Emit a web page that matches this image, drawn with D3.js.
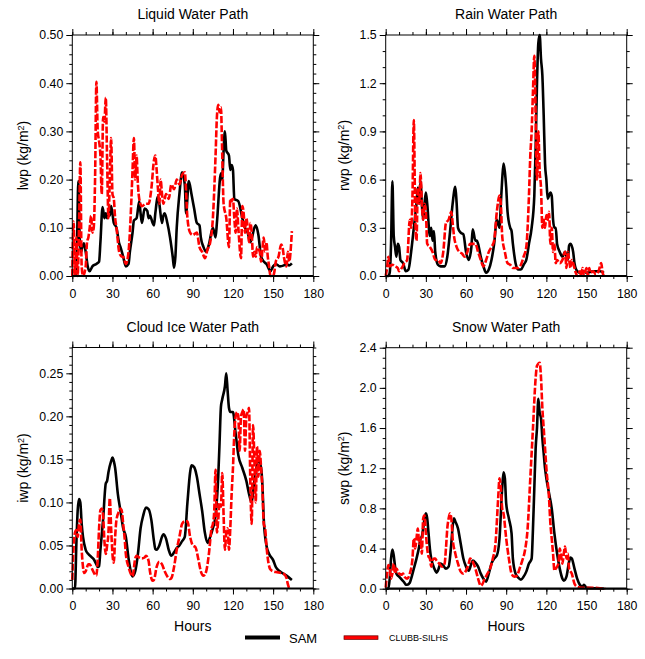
<!DOCTYPE html>
<html>
<head>
<meta charset="utf-8">
<script src="https://cdn.jsdelivr.net/npm/d3@7"></script>
<style>
body { margin: 0; background: #fff; }
text { font-family: "Liberation Sans", Arial, sans-serif; fill: #000; }
</style>
</head>
<body>
<div id="chart"></div>
<script>
// series names (legend)
var seriesNames = ["SAM", "CLUBB-SILHS"];

// hours axis
var xTicks = [0, 30, 60, 90, 120, 150, 180];

// liquid water path [hour, kg/m2]
var lwpSam = [[2.5,0],[3.5,0.06],[4.5,0.197],[5.5,0.08],[6.5,0.05],[7.5,0.06],[8.7,0.068],[10,0.05],[11.5,0.02],[13,0.01],[15,0.02],[18,0.025],[20,0.03],[21,0.07],[22.6,0.143],[24,0.12],[25,0.13],[26,0.12],[27,0.13],[28,0.125],[29,0.145],[31,0.11],[33,0.1],[35,0.068],[36,0.06],[38,0.04],[40,0.02],[42,0.025],[43,0.05],[45,0.09],[46,0.115],[48,0.12],[50,0.155],[51,0.13],[52,0.11],[54,0.14],[56,0.135],[57,0.12],[58,0.125],[60,0.11],[61,0.105],[62,0.13],[64,0.165],[65,0.15],[67,0.11],[68,0.125],[69,0.13],[71,0.11],[73,0.08],[75,0.04],[76,0.017],[77,0.04],[78,0.1],[80,0.17],[82,0.215],[84,0.19],[85,0.13],[87,0.197],[89,0.17],[91,0.14],[93,0.11],[95,0.105],[96,0.08],[98,0.06],[100,0.05],[102,0.065],[105,0.1],[107,0.08],[108,0.11],[111,0.213],[112,0.2],[113,0.26],[114,0.3],[115,0.26],[117,0.25],[118,0.22],[119,0.23],[120,0.22],[121,0.16],[124,0.155],[127,0.12],[129,0.1],[131,0.09],[133,0.07],[136,0.1],[137,0.105],[139,0.085],[141,0.04],[143,0.03],[145,0.025],[148,0.01],[150,0.02],[152,0.025],[155,0.02],[158,0.022],[160,0.025],[162,0.022],[164,0.026]];
var lwpClubb = [[0,0],[1,0.113],[2,0],[3,0.08],[4,0],[5,0.1],[6,0.236],[7,0.02],[8,0],[10,0.02],[11,0.07],[12,0.08],[13,0.1],[14,0.125],[15,0.09],[16,0.1],[17,0.2],[18,0.403],[19,0.3],[20,0.28],[21,0.25],[22,0.17],[23,0.33],[24,0.32],[25,0.37],[26,0.24],[27,0.12],[28,0.2],[29,0.286],[30,0.17],[31,0.16],[32,0.12],[33,0.1],[35,0.05],[37,0.04],[38,0.04],[40,0.025],[42,0.05],[44,0.15],[45,0.22],[46,0.286],[47,0.2],[48,0.25],[49,0.19],[50,0.16],[52,0.145],[55,0.15],[57,0.15],[59,0.18],[61,0.24],[62,0.25],[63,0.22],[64,0.18],[65,0.15],[66,0.2],[67,0.17],[68,0.15],[70,0.17],[72,0.16],[74,0.19],[76,0.18],[78,0.2],[80,0.19],[82,0.21],[84,0.215],[86,0.12],[88,0.09],[90,0.085],[93,0.09],[95,0.06],[97,0.05],[99,0.037],[101,0.055],[103,0.07],[105,0.12],[107,0.25],[108,0.33],[109,0.355],[110,0.34],[111,0.35],[112,0.25],[113,0.15],[115,0.12],[117,0.06],[118,0.16],[119,0.155],[120,0.16],[121,0.12],[122,0.09],[123,0.14],[124,0.1],[126,0.037],[127,0.145],[128,0.13],[129,0.09],[130,0.12],[131,0.1],[132,0.07],[133,0.11],[134,0.09],[135,0.04],[136,0.05],[137,0.04],[138,0.06],[140,0.05],[141,0.03],[143,0.08],[144,0.05],[145,0.07],[146,0.04],[147,0.02],[148,0],[150,0],[151,0.01],[152,0.03],[154,0.04],[156,0.065],[157,0.06],[158,0.04],[160,0.02],[161,0.05],[162,0.03],[164,0.093]];

// rain water path
var rwpSam = [[0,0],[2,0],[3,0.02],[4,0.2],[5,0.59],[6,0.25],[7,0.18],[8,0.12],[9,0.2],[10,0.18],[11,0.1],[13,0.08],[15,0.03],[17,0.04],[19,0.15],[21,0.3],[23,0.45],[24,0.55],[25,0.45],[26,0.59],[27,0.45],[28,0.35],[29,0.45],[30,0.52],[31,0.45],[33,0.25],[34,0.3],[35,0.22],[36,0.28],[37,0.15],[39,0.07],[41,0.06],[44,0.06],[46,0.12],[48,0.27],[50,0.45],[52,0.555],[53,0.45],[54,0.3],[56,0.27],[58,0.26],[60,0.15],[62,0.1],[64,0.18],[65,0.29],[67,0.22],[68,0.22],[69,0.2],[71,0.12],[73,0.06],[75,0.02],[77,0.04],[79,0.1],[81,0.2],[83,0.35],[85,0.3],[86,0.45],[87,0.6],[88,0.7],[89,0.65],[90,0.55],[91,0.4],[93,0.3],[94,0.28],[95,0.2],[97,0.08],[99,0.04],[101,0.04],[103,0.07],[105,0.1],[107,0.2],[109,0.3],[111,0.5],[112,0.8],[113,1.2],[114,1.45],[115,1.5],[116,1.35],[117,1.25],[118,1.0],[119,0.7],[120,0.6],[121,0.48],[122,0.5],[123,0.52],[124,0.5],[125,0.35],[126,0.3],[127,0.3],[128,0.2],[130,0.15],[132,0.12],[134,0.15],[136,0.1],[137,0.19],[138,0.2],[140,0.15],[141,0.08],[143,0.03],[145,0.02],[147,0.03],[150,0.02],[155,0.03],[160,0.03],[163,0.02]];
var rwpClubb = [[0,0],[1,0.05],[2,0.12],[3,0.06],[5,0.07],[7,0.06],[9,0.05],[10,0.03],[12,0.05],[14,0.08],[16,0.1],[18,0.35],[19,0.3],[20,0.5],[21,0.97],[22,0.4],[23,0.22],[24,0.55],[25,0.45],[26,0.64],[27,0.45],[28,0.35],[29,0.45],[30,0.4],[31,0.2],[33,0.18],[35,0.15],[37,0.1],[39,0.1],[41,0.08],[43,0.15],[45,0.33],[47,0.35],[49,0.4],[50,0.33],[51,0.25],[53,0.18],[55,0.15],[57,0.14],[59,0.12],[61,0.15],[63,0.2],[65,0.2],[67,0.2],[69,0.15],[71,0.1],[73,0.06],[75,0.1],[77,0.15],[79,0.18],[81,0.22],[83,0.4],[85,0.5],[86,0.45],[87,0.25],[89,0.15],[91,0.08],[93,0.07],[95,0.05],[97,0.05],[99,0.05],[101,0.07],[103,0.12],[105,0.18],[107,0.5],[108,0.75],[109,0.9],[110,1.15],[111,1.37],[112,1.0],[113,0.6],[114,0.9],[115,0.65],[116,0.55],[117,0.3],[118,0.35],[119,0.3],[120,0.38],[121,0.35],[122,0.4],[123,0.2],[124,0.3],[125,0.15],[126,0.2],[127,0.08],[128,0.1],[130,0.08],[132,0.1],[134,0.15],[135,0.05],[136,0.15],[137,0.1],[138,0.05],[139,0.1],[140,0.08],[141,0.05],[142,0.02],[143,0],[145,0.03],[146,0],[147,0.05],[148,0],[150,0.05],[151,0],[152,0.05],[153,0.02],[155,0.03],[157,0.01],[159,0.03],[161,0.08],[162,0.02],[163,0]];

// cloud ice water path
var iwpSam = [[0,0],[2,0],[3,0.05],[4,0.09],[5,0.104],[6,0.1],[7,0.075],[8,0.06],[10,0.045],[12,0.04],[14,0.037],[16,0.034],[18,0.028],[19,0.025],[20,0.026],[21,0.045],[23,0.08],[25,0.122],[26,0.125],[27,0.135],[29,0.148],[30,0.152],[31,0.148],[32,0.14],[34,0.11],[36,0.09],[38,0.07],[40,0.06],[42,0.035],[44,0.018],[45,0.014],[47,0.02],[49,0.04],[51,0.07],[53,0.085],[55,0.094],[57,0.092],[59,0.08],[61,0.055],[62,0.046],[63,0.045],[65,0.05],[67,0.06],[68,0.063],[70,0.058],[72,0.045],[74,0.038],[76,0.042],[78,0.047],[80,0.05],[82,0.055],[84,0.06],[86,0.1],[88,0.135],[89,0.143],[91,0.141],[93,0.13],[95,0.11],[97,0.09],[99,0.065],[101,0.053],[103,0.06],[105,0.07],[107,0.085],[109,0.13],[110,0.17],[111,0.211],[112,0.22],[114,0.235],[115,0.25],[116,0.23],[117,0.21],[118,0.205],[120,0.205],[122,0.18],[124,0.155],[127,0.14],[130,0.125],[132,0.11],[134,0.1],[136,0.125],[138,0.145],[139,0.15],[141,0.14],[142,0.12],[143,0.08],[145,0.05],[147,0.04],[150,0.033],[152,0.025],[155,0.02],[160,0.015],[164,0.01]];
var iwpClubb = [[0,0.01],[1,0.05],[2,0.065],[3,0.068],[4,0.06],[5,0.075],[6,0.08],[7,0.045],[8,0.025],[9,0.018],[10,0.02],[12,0.028],[13,0.028],[15,0.022],[17,0.016],[18,0.015],[19,0.035],[20,0.07],[21,0.091],[22,0.093],[23,0.085],[24,0.055],[25,0.04],[26,0.05],[27,0.065],[28,0.105],[29,0.07],[30,0.04],[31,0.03],[32,0.06],[33,0.08],[35,0.09],[36,0.093],[37,0.09],[38,0.075],[39,0.06],[40,0.04],[42,0.025],[44,0.016],[45,0.014],[47,0.035],[48,0.038],[50,0.036],[52,0.035],[54,0.036],[55,0.038],[57,0.032],[58,0.02],[60,0.009],[61,0.01],[63,0.025],[65,0.031],[67,0.028],[69,0.02],[71,0.014],[73,0.011],[74,0.012],[76,0.025],[78,0.045],[80,0.06],[82,0.075],[84,0.078],[86,0.078],[88,0.06],[90,0.05],[92,0.048],[94,0.035],[96,0.02],[98,0.015],[100,0.02],[102,0.04],[104,0.07],[105,0.075],[106,0.09],[107,0.138],[108,0.065],[109,0.08],[110,0.1],[111,0.095],[112,0.134],[113,0.085],[114,0.045],[115,0.065],[116,0.07],[117,0.045],[118,0.07],[119,0.11],[120,0.14],[121,0.18],[122,0.2],[123,0.205],[124,0.2],[125,0.16],[126,0.2],[127,0.205],[128,0.208],[129,0.16],[130,0.2],[131,0.205],[132,0.21],[133,0.12],[134,0.075],[135,0.19],[136,0.15],[137,0.1],[138,0.165],[139,0.13],[140,0.16],[141,0.14],[142,0.115],[143,0.075],[144,0.07],[145,0.05],[146,0.035],[148,0.022],[150,0.02],[153,0.019],[156,0.018],[158,0.017],[160,0.012],[161,0.005],[162,0]];

// snow water path
var swpSam = [[0,0],[2,0],[3,0.1],[4,0.3],[5,0.39],[6,0.33],[7,0.22],[8,0.15],[10,0.12],[12,0.09],[14,0.06],[15,0.04],[16,0.04],[18,0.06],[19,0.1],[21,0.2],[23,0.3],[25,0.42],[26,0.5],[27,0.52],[28,0.6],[29,0.7],[30,0.75],[31,0.7],[32,0.55],[33,0.4],[34,0.3],[35,0.25],[37,0.18],[38,0.16],[39,0.18],[41,0.25],[43,0.23],[45,0.2],[47,0.22],[49,0.45],[50,0.62],[51,0.7],[52,0.67],[54,0.6],[56,0.45],[58,0.3],[60,0.22],[62,0.18],[64,0.25],[65,0.28],[67,0.26],[69,0.22],[71,0.15],[73,0.1],[75,0.07],[77,0.15],[79,0.25],[81,0.3],[83,0.33],[85,0.5],[87,1.0],[88,1.16],[89,1.1],[90,0.85],[92,0.7],[94,0.55],[95,0.3],[97,0.15],[99,0.11],[101,0.09],[103,0.12],[105,0.17],[107,0.25],[109,0.3],[110,0.6],[111,1.0],[112,1.4],[113,1.6],[114,1.89],[115,1.75],[116,1.7],[117,1.5],[118,1.35],[119,1.2],[120,1.1],[122,0.95],[124,0.8],[126,0.55],[128,0.35],[130,0.2],[132,0.1],[133,0.08],[135,0.12],[137,0.27],[138,0.31],[139,0.3],[141,0.2],[143,0.1],[145,0.04],[147,0.02],[148,0.04],[150,0.01],[155,0.005],[160,0.005],[163,0]];
var swpClubb = [[0,0.01],[1,0.15],[2,0.235],[3,0.2],[4,0.1],[5,0.15],[6,0.25],[7,0.15],[8,0.2],[10,0.15],[12,0.14],[13,0.15],[14,0.12],[16,0.1],[18,0.15],[20,0.3],[21,0.5],[22,0.4],[23,0.5],[24,0.6],[25,0.45],[26,0.5],[27,0.35],[28,0.7],[29,0.73],[30,0.55],[31,0.4],[32,0.32],[33,0.3],[34,0.22],[35,0.28],[36,0.3],[37,0.3],[38,0.28],[40,0.25],[42,0.22],[44,0.25],[45,0.4],[46,0.6],[47,0.7],[48,0.75],[49,0.7],[50,0.5],[52,0.35],[54,0.25],[56,0.17],[58,0.15],[60,0.18],[62,0.25],[63,0.3],[65,0.27],[67,0.2],[69,0.1],[71,0.03],[72,0.04],[74,0.1],[76,0.15],[78,0.2],[80,0.3],[82,0.45],[84,0.9],[85,1.1],[86,1.0],[87,0.8],[88,0.75],[90,0.5],[92,0.3],[94,0.15],[96,0.12],[98,0.13],[100,0.2],[102,0.28],[104,0.38],[106,0.6],[108,1.1],[110,1.6],[112,2.1],[113,2.22],[115,2.25],[116,2.1],[117,1.8],[118,1.6],[119,1.4],[120,1.2],[122,0.9],[123,0.65],[124,0.5],[125,0.35],[126,0.18],[127,0.2],[129,0.25],[130,0.4],[131,0.33],[132,0.25],[133,0.35],[134,0.42],[135,0.3],[136,0.35],[137,0.2],[139,0.15],[141,0.05],[143,0.02],[146,0.01],[150,0.01],[155,0.01],[160,0.005],[164,0]];

var panels = [
  {title: "Liquid Water Path", label: "lwp", sam: lwpSam, clubb: lwpClubb, ymax: 0.5,
   ticks: [0, 0.1, 0.2, 0.3, 0.4, 0.5], minor: 0.02, fmt: ".2f", left: 72.3, top: 35, labelX: -49, hours: false},
  {title: "Rain Water Path", label: "rwp", sam: rwpSam, clubb: rwpClubb, ymax: 1.5,
   ticks: [0, 0.3, 0.6, 0.9, 1.2, 1.5], minor: 0.1, fmt: ".1f", left: 385.7, top: 35, labelX: -42, hours: false},
  {title: "Cloud Ice Water Path", label: "iwp", sam: iwpSam, clubb: iwpClubb, ymax: 0.28,
   ticks: [0, 0.05, 0.1, 0.15, 0.2, 0.25], minor: 0.01, fmt: ".2f", left: 72.3, top: 347.5, labelX: -49, hours: true},
  {title: "Snow Water Path", label: "swp", sam: swpSam, clubb: swpClubb, ymax: 2.4,
   ticks: [0, 0.4, 0.8, 1.2, 1.6, 2.0, 2.4], minor: 0.1, fmt: ".1f", left: 385.7, top: 347.7, labelX: -42, hours: true}
];

var W = 241, H = 241;

var svg = d3.select("#chart").append("svg")
  .attr("width", 645)
  .attr("height", 659);

function styleAxis(sel) {
  sel.select(".domain").remove();
  sel.selectAll("line").attr("stroke", "#000").attr("stroke-width", 1);
  sel.selectAll("text").attr("font-size", "12.3px").attr("fill", "#000")
    .attr("font-family", "'Liberation Sans', Arial, sans-serif");
}

function drawPanel(p) {
  var g = svg.append("g").attr("transform", "translate(" + p.left + "," + p.top + ")");

  var x = d3.scaleLinear().domain([0, 180]).range([0, W]);
  var y = d3.scaleLinear().domain([0, p.ymax]).range([H, 0]);

  var xMinor = d3.range(0, 181, 10);
  var yMinor = d3.range(0, p.ymax + 1e-9, p.minor);

  // minor ticks on all four sides
  g.append("g").attr("transform", "translate(0," + H + ")")
    .call(d3.axisBottom(x).tickValues(xMinor).tickSize(3).tickFormat("")).call(styleAxis);
  g.append("g")
    .call(d3.axisTop(x).tickValues(xMinor).tickSize(3).tickFormat("")).call(styleAxis);
  g.append("g")
    .call(d3.axisLeft(y).tickValues(yMinor).tickSize(3).tickFormat("")).call(styleAxis);
  g.append("g").attr("transform", "translate(" + W + ",0)")
    .call(d3.axisRight(y).tickValues(yMinor).tickSize(3).tickFormat("")).call(styleAxis);

  // major ticks
  g.append("g").attr("transform", "translate(0," + H + ")")
    .call(d3.axisBottom(x).tickValues(xTicks).tickSize(6).tickPadding(7).tickFormat(d3.format("d"))).call(styleAxis);
  g.append("g")
    .call(d3.axisTop(x).tickValues(xTicks).tickSize(6).tickFormat("")).call(styleAxis);
  g.append("g")
    .call(d3.axisLeft(y).tickValues(p.ticks).tickSize(6).tickPadding(3).tickFormat(d3.format(p.fmt))).call(styleAxis);
  g.append("g").attr("transform", "translate(" + W + ",0)")
    .call(d3.axisRight(y).tickValues(p.ticks).tickSize(6).tickFormat("")).call(styleAxis);

  var line = d3.line()
    .x(function(d) { return x(d[0]); })
    .y(function(d) { return y(d[1]); })
    .curve(d3.curveMonotoneX);

  g.append("path").datum(p.sam)
    .attr("fill", "none").attr("stroke", "#000").attr("stroke-width", 2.6)
    .attr("stroke-linejoin", "round")
    .attr("d", line);

  g.append("path").datum(p.clubb)
    .attr("fill", "none").attr("stroke", "#f00").attr("stroke-width", 2.6)
    .attr("stroke-dasharray", "7,2")
    .attr("d", line);

  // zero line and frame
  g.append("line")
    .attr("x1", 0).attr("x2", W).attr("y1", y(0)).attr("y2", y(0))
    .attr("stroke", "#000").attr("stroke-width", 2.2);
  g.append("rect")
    .attr("width", W).attr("height", H)
    .attr("fill", "none").attr("stroke", "#000").attr("stroke-width", 1);

  g.append("text")
    .attr("x", W / 2).attr("y", -16)
    .attr("text-anchor", "middle")
    .attr("font-size", "14px")
    .text(p.title);

  var yl = g.append("text")
    .attr("transform", "translate(" + p.labelX + "," + (H / 2) + ") rotate(-90)")
    .attr("text-anchor", "middle")
    .attr("dy", "0.35em")
    .attr("font-size", "14px");
  yl.append("tspan").text(p.label + " (kg/m");
  yl.append("tspan").attr("font-size", "9px").attr("dy", "-0.5em").text("2");
  yl.append("tspan").attr("dy", "0.32em").text(")");

  if (p.hours) {
    g.append("text")
      .attr("x", W / 2).attr("y", H + 42.5)
      .attr("text-anchor", "middle")
      .attr("font-size", "14px")
      .text("Hours");
  }
}

panels.forEach(drawPanel);

// legend
var legend = svg.append("g");
legend.append("line")
  .attr("x1", 245).attr("x2", 280).attr("y1", 637.5).attr("y2", 637.5)
  .attr("stroke", "#000").attr("stroke-width", 4);
legend.append("text")
  .attr("x", 289).attr("y", 642.5)
  .attr("font-size", "13px")
  .text(seriesNames[0]);
legend.append("rect")
  .attr("x", 344).attr("y", 635.8).attr("width", 34).attr("height", 3.6)
  .attr("fill", "#f00").attr("stroke", "#600").attr("stroke-width", 0.7);
legend.append("text")
  .attr("x", 389).attr("y", 641)
  .attr("font-size", "9px")
  .text(seriesNames[1]);
</script>
</body>
</html>
